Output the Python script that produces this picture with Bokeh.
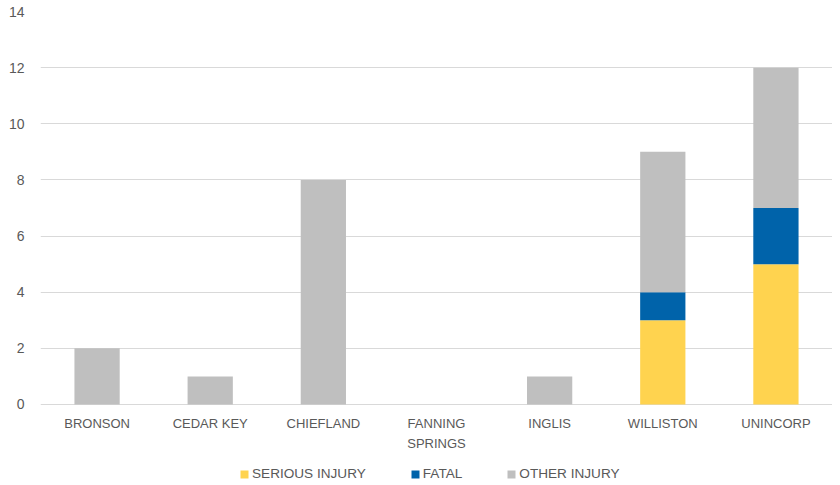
from bokeh.plotting import figure
from bokeh.models import ColumnDataSource, Legend, LegendItem, FactorRange, FixedTicker
from bokeh.core.properties import value
from bokeh.embed import file_html
from bokeh.resources import INLINE

categories = ["BRONSON", "CEDAR KEY", "CHIEFLAND", "FANNING\nSPRINGS", "INGLIS", "WILLISTON", "UNINCORP"]
serious_injury = [0, 0, 0, 0, 0, 3, 5]
fatal = [0, 0, 0, 0, 0, 1, 2]
other_injury = [2, 1, 8, 0, 1, 5, 5]
y_ticks = [0, 2, 4, 6, 8, 10, 12, 14]

series = ["serious", "fatal", "other"]
series_labels = ["SERIOUS INJURY", "FATAL", "OTHER INJURY"]
colors = ["#FFD34F", "#0063AA", "#BFBFBF"]

source = ColumnDataSource(data=dict(cat=categories, serious=serious_injury, fatal=fatal,
                                    other=other_injury, base=[0] * len(categories)))

FONT = "Liberation Sans"
TXT = "#595959"

# frame extends below 0 to hold the category labels and legend (28.07 px per unit)
p = figure(x_range=FactorRange(*categories, range_padding=0), y_range=(-2.779, 14),
           frame_width=792, frame_height=471, output_backend="svg", toolbar_location=None,
           x_axis_location=None,
           min_border_top=11, min_border_left=40, min_border_right=0, min_border_bottom=0)

renderers = p.vbar_stack(series, x="cat", width=0.4, color=colors, source=source, line_color=None)

p.outline_line_color = None
p.background_fill_color = "white"
p.border_fill_color = "white"

p.xgrid.grid_line_color = None
p.xgrid.visible = False

ticker = FixedTicker(ticks=y_ticks)
p.yaxis.ticker = ticker
p.ygrid.ticker = ticker
p.ygrid.grid_line_color = "#D9D9D9"
p.ygrid.grid_line_width = 1
p.yaxis.axis_line_color = None
p.yaxis.major_tick_line_color = None
p.yaxis.minor_tick_line_color = None
p.yaxis.major_tick_out = 0
p.yaxis.minor_tick_out = 0
p.yaxis.major_label_standoff = 16
p.yaxis.major_label_text_font = FONT
p.yaxis.major_label_text_font_size = "14px"
p.yaxis.major_label_text_color = TXT

# category labels under the zero line
p.text(x="cat", y="base", text="cat", source=source, y_offset=12,
       text_align="center", text_baseline="top", text_line_height=1.3,
       text_font=value(FONT), text_font_size=value("13px"), text_color=TXT)

legend = Legend(items=[LegendItem(label=l, renderers=[r]) for l, r in zip(series_labels, renderers)],
                orientation="horizontal", location=(199, 1),
                glyph_width=10, glyph_height=10, label_standoff=3, spacing=44,
                padding=0, margin=0, border_line_color=None, background_fill_alpha=0,
                label_text_font=FONT, label_text_font_size="13.6px", label_text_color=TXT)
p.add_layout(legend, "center")

open("out.html", "w").write(file_html(p, INLINE))
